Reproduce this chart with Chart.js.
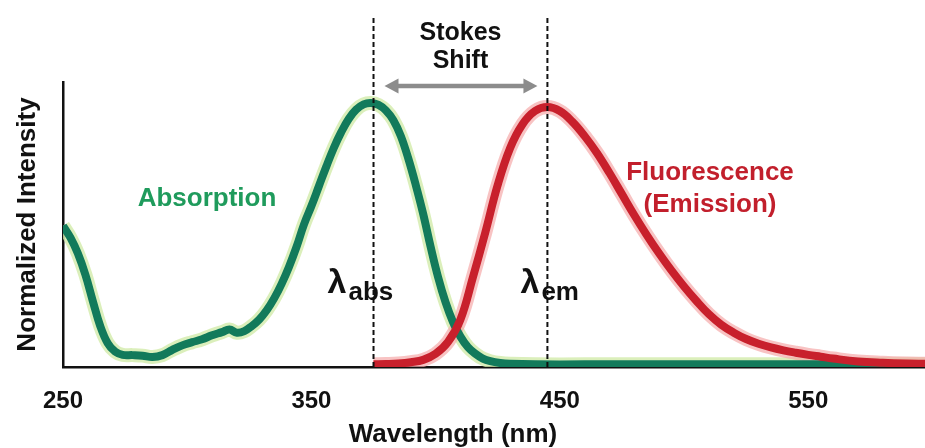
<!DOCTYPE html>
<html><head><meta charset="utf-8">
<script src="https://cdn.jsdelivr.net/npm/chart.js@4.4.1/dist/chart.umd.min.js"></script>
<style>html,body{margin:0;padding:0;background:#fff;}canvas{display:block;}</style>
</head><body>
<canvas id="c" width="925" height="448"></canvas>
<script>
// ---- data ----
const absWavelengths = [250,253,256,259,262,265,268,271,274,278,282,286,290,294,298,302,306,310,314,317,320,323,326,329,332,335,338,341,344,347,350,353,356,359,362,365,368,371,374,377,380,383,386,389,392,395,398,401,404,407,410,413,416,419,422,426,430,440,460,490,520,550,580,597];
const absValues = [0.535,0.49,0.43,0.35,0.25,0.155,0.09,0.058,0.046,0.045,0.043,0.038,0.045,0.065,0.082,0.094,0.105,0.12,0.132,0.142,0.13,0.136,0.155,0.18,0.215,0.26,0.315,0.38,0.455,0.54,0.61,0.685,0.76,0.83,0.89,0.94,0.975,0.995,1.0,0.993,0.972,0.935,0.875,0.79,0.69,0.58,0.455,0.34,0.245,0.17,0.115,0.075,0.05,0.032,0.022,0.015,0.012,0.01,0.01,0.01,0.01,0.01,0.01,0.01];
const emWavelengths = [375,380,385,390,395,400,405,410,415,420,425,430,435,440,445,450,455,460,465,470,475,480,485,490,495,500,505,510,515,520,525,530,535,540,545,550,555,560,570,580,590,597];
const emValues = [0.01,0.011,0.013,0.018,0.027,0.05,0.095,0.18,0.34,0.51,0.69,0.83,0.92,0.97,0.985,0.97,0.93,0.875,0.81,0.735,0.655,0.575,0.5,0.43,0.365,0.305,0.25,0.2,0.16,0.13,0.106,0.088,0.074,0.063,0.054,0.046,0.039,0.032,0.021,0.016,0.013,0.012];
const xTickValues = [250,350,450,550];
const lambdaAbs = 375;
const lambdaEm = 445;
const xTitle = 'Wavelength (nm)';
const yTitle = 'Normalized Intensity';
const absLabel = 'Absorption';
const emLabel = ['Fluorescence','(Emission)'];
const shiftLabel = ['Stokes','Shift'];

const F = "'Liberation Sans', Arial, sans-serif";
const toXY = (xs, ys) => xs.map((v,i)=>({x:v, y:ys[i]}));

const annot = {
  id:'annot',
  afterDatasetsDraw(chart){
    const {ctx, chartArea, scales:{x}} = chart;
    const xa = x.getPixelForValue(lambdaAbs), xe = x.getPixelForValue(lambdaEm);
    ctx.save();
    // dashed marker lines
    ctx.strokeStyle = '#111'; ctx.lineWidth = 2; ctx.setLineDash([5,3]);
    [xa, xe].forEach(px => { ctx.beginPath(); ctx.moveTo(px, 18); ctx.lineTo(px, chartArea.bottom); ctx.stroke(); });
    ctx.setLineDash([]);
    // Stokes shift arrow
    const ay = 86, x1 = xa + 11, x2 = xe - 10, hl = 14, hw = 7.5;
    ctx.strokeStyle = '#8c8c8c'; ctx.fillStyle = '#8c8c8c'; ctx.lineWidth = 4.5;
    ctx.beginPath(); ctx.moveTo(x1 + hl - 2, ay); ctx.lineTo(x2 - hl + 2, ay); ctx.stroke();
    ctx.beginPath(); ctx.moveTo(x1, ay); ctx.lineTo(x1 + hl, ay - hw); ctx.lineTo(x1 + hl, ay + hw); ctx.closePath(); ctx.fill();
    ctx.beginPath(); ctx.moveTo(x2, ay); ctx.lineTo(x2 - hl, ay - hw); ctx.lineTo(x2 - hl, ay + hw); ctx.closePath(); ctx.fill();
    // texts
    ctx.textBaseline = 'alphabetic';
    ctx.textAlign = 'center';
    ctx.fillStyle = '#111';
    ctx.font = 'bold 25px ' + F;
    const xm = (xa + xe) / 2;
    ctx.fillText(shiftLabel[0], xm, 40);
    ctx.fillText(shiftLabel[1], xm, 68);
    ctx.font = 'bold 26px ' + F;
    ctx.fillText(xTitle, 453, 442);
    ctx.fillStyle = '#1f9b5c';
    ctx.fillText(absLabel, 207, 206);
    ctx.fillStyle = '#c21f2c';
    ctx.fillText(emLabel[0], 710, 180);
    ctx.fillText(emLabel[1], 710, 212);
    // lambda labels
    ctx.textAlign = 'left';
    ctx.fillStyle = '#111';
    ctx.font = 'bold 34px ' + F;
    ctx.fillText('λ', xa - 46, 293);
    ctx.fillText('λ', xe - 27, 293);
    ctx.font = 'bold 26px ' + F;
    ctx.fillText('abs', xa - 25, 300);
    ctx.fillText('em', xe - 6, 300);
    ctx.restore();
  }
};

const common = { pointRadius:0, tension:0.4, fill:false };
new Chart(document.getElementById('c'), {
  type: 'line',
  data: {
    datasets: [
      { label:'Fluorescence', data: toXY(emWavelengths, emValues), borderColor:'#c8202c', borderWidth:8, ...common },
      { label:'Absorption', data: toXY(absWavelengths, absValues), borderColor:'#127a5b', borderWidth:8, ...common },
      { label:'Fluorescence glow', data: toXY(emWavelengths, emValues), borderColor:'rgba(245,170,170,0.7)', borderWidth:14, ...common },
      { label:'Absorption glow', data: toXY(absWavelengths, absValues), borderColor:'rgba(210,235,170,0.8)', borderWidth:14, ...common }
    ]
  },
  options: {
    responsive:false, animation:false,
    layout:{ padding:{ top:82, left:0, right:0, bottom:0 } },
    plugins:{ legend:{display:false}, tooltip:{enabled:false} },
    scales:{
      x:{
        type:'linear', min:250, max:597,
        afterBuildTicks: s => { s.ticks = xTickValues.map(v => ({value:v})); },
        afterFit: s => { s.height = 81; },
        grid:{ display:false, drawTicks:false },
        border:{ display:true, color:'#111', width:2.5 },
        ticks:{ font:{ family:F, size:24, weight:'bold' }, color:'#111', padding:20, maxRotation:0, autoSkip:false }
      },
      y:{
        min:0, max:1.08,
        afterFit: s => { s.width = 63; },
        grid:{ display:false, drawTicks:false },
        border:{ display:true, color:'#111', width:2.5 },
        ticks:{ display:false },
        title:{ display:true, text:yTitle, font:{ family:F, size:26, weight:'bold' }, color:'#111', padding:{top:12, bottom:0} }
      }
    }
  },
  plugins:[annot]
});
</script>
</body></html>
